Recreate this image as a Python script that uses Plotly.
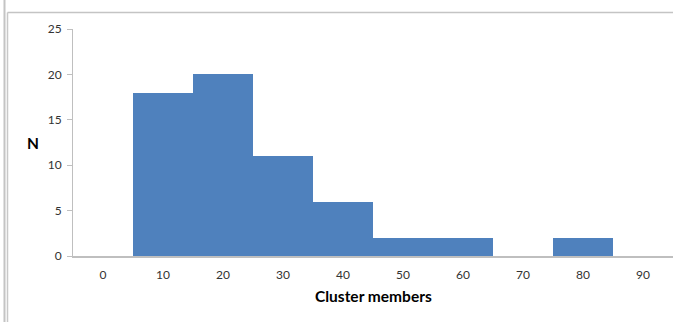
import plotly.graph_objects as go

# Histogram of cluster sizes (bin centres and counts)
bin_centres = [0, 10, 20, 30, 40, 50, 60, 70, 80, 90]
counts = [0, 18, 20, 11, 6, 2, 2, 0, 2, 0]
y_ticks = [0, 5, 10, 15, 20, 25]

W, H = 673, 322
L, R, T, B = 73, 0, 29, 66
pw, ph = W - L - R, H - T - B


def px_x(p):
    return (p - L) / pw


def px_y(p):
    return 1 - (p - T) / ph


fig = go.Figure(
    go.Bar(
        x=bin_centres,
        y=counts,
        width=10,
        marker=dict(color="#4F81BD", line=dict(width=0)),
        hoverinfo="x+y",
    )
)

font = "Lato, 'Open Sans', sans-serif"

fig.update_layout(
    width=W,
    height=H,
    autosize=False,
    margin=dict(l=L, r=R, t=T, b=B),
    paper_bgcolor="white",
    plot_bgcolor="white",
    showlegend=False,
    bargap=0,
    font=dict(family=font, size=12, color="#333333"),
    xaxis=dict(
        range=[-5, 95],
        tickvals=bin_centres,
        ticktext=[str(v) for v in bin_centres],
        showgrid=False,
        zeroline=False,
        showline=True,
        linecolor="#BFBFBF",
        linewidth=1.5,
        ticks="",
        ticklabelstandoff=7,
        fixedrange=True,
    ),
    yaxis=dict(
        range=[0, 25],
        tickvals=y_ticks,
        showgrid=False,
        zeroline=False,
        showline=True,
        linecolor="#BFBFBF",
        linewidth=1,
        ticks="outside",
        ticklen=5,
        tickcolor="#BFBFBF",
        ticklabelstandoff=3,
        fixedrange=True,
    ),
    annotations=[
        dict(
            text="<b>Cluster members</b>",
            x=px_x(373), y=px_y(296), xref="paper", yref="paper",
            showarrow=False, font=dict(family=font, size=15.5, color="#000000"),
            xanchor="center", yanchor="middle",
        ),
        dict(
            text="<b>N</b>",
            x=px_x(33), y=px_y(143), xref="paper", yref="paper",
            showarrow=False, font=dict(family=font, size=15.5, color="#000000"),
            xanchor="center", yanchor="middle",
        ),
    ],
    shapes=[
        # outer frame edge on the left
        dict(type="line", xref="paper", yref="paper",
             x0=px_x(4.5), x1=px_x(4.5), y0=px_y(0), y1=px_y(H),
             line=dict(color="#C4C4C4", width=2)),
        # chart area border (left and top)
        dict(type="line", xref="paper", yref="paper",
             x0=px_x(7.5), x1=px_x(7.5), y0=px_y(12.5), y1=px_y(H),
             line=dict(color="#C8C8C8", width=1.5)),
        dict(type="line", xref="paper", yref="paper",
             x0=px_x(7.5), x1=px_x(W), y0=px_y(12.5), y1=px_y(12.5),
             line=dict(color="#C4C4C4", width=1.5)),
    ],
)

fig.write_html("out.html", config={"displayModeBar": False})
